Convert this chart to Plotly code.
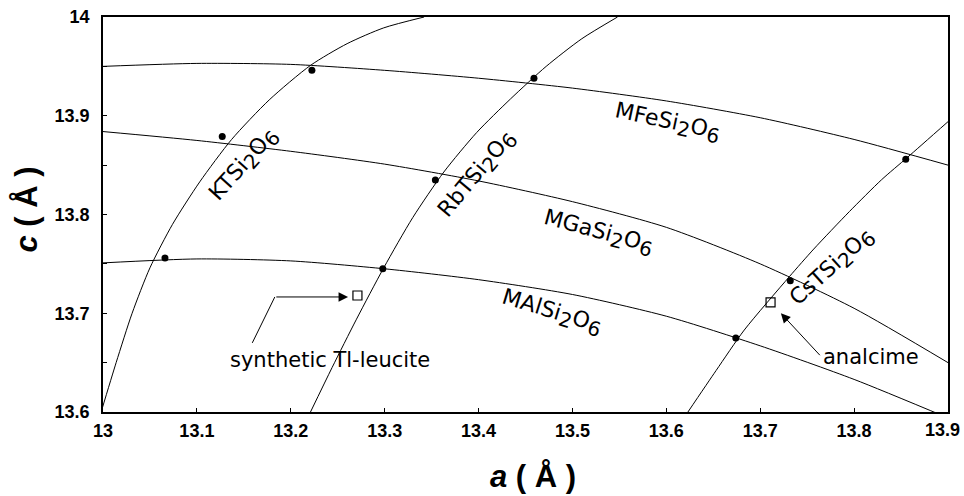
import plotly.graph_objects as go

# ---- data ----
a_grid = [13.0, 13.1, 13.2, 13.3, 13.4, 13.5, 13.6, 13.7, 13.8, 13.9]
mfe_c = [13.950, 13.953, 13.952, 13.946, 13.938, 13.928, 13.915, 13.898, 13.876, 13.850]
mga_c = [13.884, 13.875, 13.864, 13.851, 13.834, 13.813, 13.787, 13.750, 13.705, 13.650]
mal_c = [13.751, 13.755, 13.753, 13.745, 13.734, 13.719, 13.697, 13.667, 13.633, 13.594]

kt_a = [12.998, 13.014, 13.031, 13.050, 13.074, 13.103, 13.137, 13.177, 13.221, 13.260, 13.299, 13.342]
kt_c = [13.600, 13.650, 13.700, 13.746, 13.790, 13.833, 13.876, 13.916, 13.951, 13.973, 13.989, 14.000]

rb_a = [13.221, 13.244, 13.270, 13.299, 13.330, 13.363, 13.398, 13.434, 13.472, 13.510, 13.548]
rb_c = [13.600, 13.645, 13.694, 13.746, 13.797, 13.843, 13.883, 13.917, 13.950, 13.978, 14.000]

cs_a = [13.623, 13.653, 13.683, 13.731, 13.757, 13.795, 13.829, 13.857, 13.900]
cs_c = [13.600, 13.642, 13.683, 13.737, 13.765, 13.803, 13.835, 13.858, 13.894]

dots_a = [13.066, 13.127, 13.2225, 13.298, 13.354, 13.459, 13.674, 13.732, 13.855]
dots_c = [13.756, 13.879, 13.946, 13.745, 13.835, 13.938, 13.675, 13.733, 13.856]

open_a = [13.271, 13.711]
open_c = [13.718, 13.711]

x_ticks = [13.0, 13.1, 13.2, 13.3, 13.4, 13.5, 13.6, 13.7, 13.8, 13.9]
x_ticklabels = ["13", "13.1", "13.2", "13.3", "13.4", "13.5", "13.6", "13.7", "13.8", "13.9"]
y_ticks = [13.6, 13.7, 13.8, 13.9, 14.0]
y_ticklabels = ["13.6", "13.7", "13.8", "13.9", "14"]

# ---- figure ----
fig = go.Figure()
line_style = dict(color="black", width=1, shape="spline", smoothing=0.7)
for xs, ys in [(a_grid, mfe_c), (a_grid, mga_c), (a_grid, mal_c),
               (kt_a, kt_c), (rb_a, rb_c), (cs_a, cs_c)]:
    fig.add_trace(go.Scatter(x=xs, y=ys, mode="lines", line=line_style,
                             hoverinfo="skip", showlegend=False))

fig.add_trace(go.Scatter(x=dots_a, y=dots_c, mode="markers",
                         marker=dict(color="black", size=7),
                         showlegend=False))
fig.add_trace(go.Scatter(x=open_a, y=open_c, mode="markers",
                         marker=dict(symbol="square-open", color="black", size=9,
                                     line=dict(width=1.2)),
                         showlegend=False))

# bent leader for synthetic Tl-leucite
fig.add_trace(go.Scatter(x=[13.159, 13.183], y=[13.670, 13.7165], mode="lines",
                         line=dict(color="black", width=1), hoverinfo="skip",
                         showlegend=False))


def formula(prefix):
    sub = "<sub><span style='font-size:20px'>{}</span></sub>"
    return prefix + "Si" + sub.format("2") + "O" + sub.format("6")


lab_font = dict(family="DejaVu Sans", size=22, color="black")
txt_font = dict(family="DejaVu Sans", size=21, color="black")
annotations = [
    dict(x=13.151, y=13.850, text=formula("KT"), textangle=-48, font=lab_font),
    dict(x=13.399, y=13.840, text=formula("RbT"), textangle=-50, font=lab_font),
    dict(x=13.601, y=13.893, text=formula("MFe"), textangle=12, font=lab_font),
    dict(x=13.527, y=13.781, text=formula("MGa"), textangle=15, font=lab_font),
    dict(x=13.478, y=13.700, text=formula("MAl"), textangle=17, font=lab_font),
    dict(x=13.777, y=13.746, text=formula("CsT"), textangle=-42, font=lab_font),
    dict(x=13.242, y=13.653, text="synthetic Tl-leucite", textangle=0, font=txt_font),
    dict(x=13.818, y=13.656, text="analcime", textangle=0, font=txt_font),
]
ann_list = []
for a in annotations:
    a.update(showarrow=False, xref="x", yref="y")
    ann_list.append(a)

# arrows
ann_list.append(dict(x=13.261, y=13.7165, ax=13.183, ay=13.7165, xref="x", yref="y",
                     axref="x", ayref="y", text="", showarrow=True, arrowhead=2,
                     arrowsize=1.9, arrowwidth=1, arrowcolor="black"))
ann_list.append(dict(x=13.722, y=13.700, ax=13.765, ay=13.656, xref="x", yref="y",
                     axref="x", ayref="y", text="", showarrow=True, arrowhead=2,
                     arrowsize=1.9, arrowwidth=1, arrowcolor="black"))

tick_font = dict(family="Liberation Sans", size=18, color="black", weight="bold")

# last x tick label, kept inside the page edge
last_label = x_ticklabels[-1]
x_ticklabels_axis = x_ticklabels[:-1] + [""]
ann_list.append(dict(x=x_ticks[-1], y=0, xref="x", yref="paper", text=last_label,
                     showarrow=False, font=tick_font, xanchor="right", xshift=14,
                     yanchor="top", yshift=-6))

# axis titles
title_font = dict(family="Liberation Sans", size=31, color="black", weight="bold")
ann_list.append(dict(x=0.509, y=0, xref="paper", yref="paper", yshift=-64,
                     text="<i>a</i> ( Å )", showarrow=False, font=title_font,
                     xanchor="center", yanchor="middle"))
ann_list.append(dict(x=0, y=0.5, xref="paper", yref="paper", xshift=-77, yshift=5,
                     text="<i>c</i> ( Å )", showarrow=False, font=title_font,
                     textangle=-90, xanchor="center", yanchor="middle"))

fig.update_layout(
    width=964, height=496,
    margin=dict(l=103, r=16, t=17, b=84, autoexpand=False),
    plot_bgcolor="white", paper_bgcolor="white",
    annotations=ann_list,
    xaxis=dict(range=[13.0, 13.9], tickvals=x_ticks, ticktext=x_ticklabels_axis,
               showgrid=False, zeroline=False, showline=True, linecolor="black",
               linewidth=1.5, mirror=True, ticks="inside", ticklen=4,
               tickcolor="black", tickfont=tick_font, ticklabeloverflow="allow",
               ticklabelstandoff=2, automargin=False),
    yaxis=dict(range=[13.6, 14.0], tickvals=y_ticks, ticktext=y_ticklabels,
               showgrid=False, zeroline=False, showline=True, linecolor="black",
               linewidth=1.5, mirror=True, ticks="inside", ticklen=4,
               tickcolor="black", tickfont=tick_font, ticklabeloverflow="allow",
               ticklabelstandoff=8, automargin=False,
               minor=dict(dtick=0.05, tick0=13.6, ticks="inside", ticklen=4,
                          tickcolor="black", showgrid=False)),
)

fig.write_html("out.html")
